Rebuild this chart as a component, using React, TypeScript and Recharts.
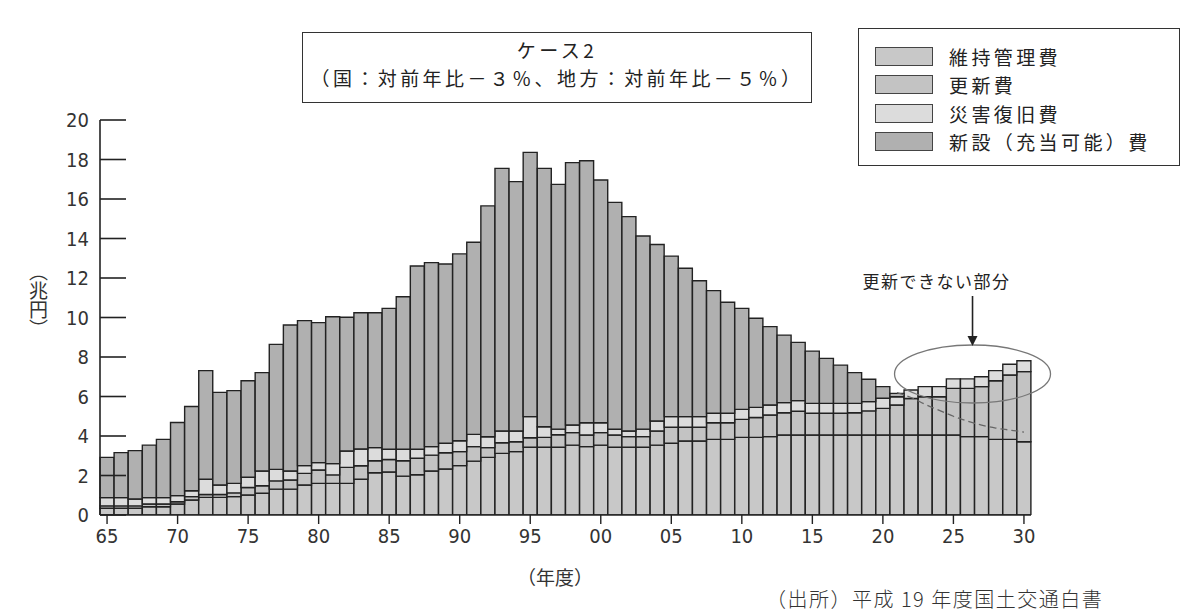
import React from 'react';
import { ComposedChart, Bar, Line, XAxis, YAxis, Legend, ReferenceDot } from 'recharts';

const years = [
  '1965','1966','1967','1968','1969','1970','1971','1972','1973','1974',
  '1975','1976','1977','1978','1979','1980','1981','1982','1983','1984',
  '1985','1986','1987','1988','1989','1990','1991','1992','1993','1994',
  '1995','1996','1997','1998','1999','2000','2001','2002','2003','2004',
  '2005','2006','2007','2008','2009','2010','2011','2012','2013','2014',
  '2015','2016','2017','2018','2019','2020','2021','2022','2023','2024',
  '2025','2026','2027','2028','2029','2030',
];

// 維持管理費
const maintenance = [
  0.34,0.34,0.34,0.42,0.42,0.56,0.76,0.89,0.89,0.93,
  1.01,1.10,1.31,1.31,1.52,1.60,1.60,1.60,1.81,2.14,
  2.18,1.97,2.04,2.23,2.33,2.50,2.73,2.92,3.12,3.21,
  3.43,3.43,3.43,3.54,3.46,3.54,3.43,3.43,3.43,3.54,
  3.63,3.75,3.75,3.83,3.83,3.93,3.93,3.97,4.05,4.05,
  4.05,4.05,4.05,4.05,4.05,4.05,4.05,4.05,4.05,4.05,
  4.05,3.97,3.97,3.83,3.83,3.71,
];
// 更新費
const renewal = [
  0.12,0.12,0.12,0.14,0.14,0.11,0.17,0.15,0.15,0.19,
  0.38,0.38,0.42,0.46,0.59,0.68,0.43,0.81,0.68,0.61,
  0.63,0.78,0.83,0.80,0.82,0.71,0.73,0.49,0.54,0.50,
  0.48,0.50,0.63,0.63,0.59,0.63,0.62,0.54,0.54,0.71,
  0.81,0.69,0.69,0.84,0.84,0.91,1.01,1.09,1.13,1.20,
  1.10,1.10,1.10,1.13,1.22,1.35,1.52,1.85,1.94,1.94,
  2.36,2.44,2.53,2.97,3.26,3.55,
];
// 災害復旧費
const disaster = [
  0.42,0.42,0.35,0.32,0.32,0.31,0.30,0.77,0.48,0.48,
  0.52,0.75,0.58,0.46,0.39,0.37,0.57,0.83,0.85,0.66,
  0.52,0.58,0.46,0.43,0.48,0.55,0.62,0.55,0.59,0.54,
  1.07,0.54,0.29,0.39,0.62,0.50,0.29,0.28,0.38,0.51,
  0.54,0.54,0.54,0.48,0.48,0.51,0.51,0.51,0.51,0.54,
  0.50,0.50,0.50,0.47,0.47,0.51,0.42,0.43,0.51,0.51,
  0.48,0.48,0.50,0.51,0.54,0.55,
];
// 新設（充当可能）費
const newBuild = [
  2.04,2.28,2.45,2.66,2.95,3.70,4.26,5.50,4.69,4.70,
  4.89,4.98,6.33,7.39,7.34,7.09,7.44,6.77,6.90,6.83,
  7.13,7.72,9.28,9.32,9.08,9.46,9.73,11.69,13.30,12.63,
  13.38,13.08,12.39,13.28,13.27,12.29,11.49,10.86,9.78,8.94,
  8.13,7.51,6.88,6.21,5.62,5.11,4.51,3.97,3.42,2.95,
  2.65,2.28,1.94,1.56,1.13,0.59,0.17,0,0,0,
  0,0,0,0,0,0,
];
// 投資可能総額（破線）
const budget = [
  null,null,null,null,null,null,null,null,null,null,
  null,null,null,null,null,null,null,null,null,null,
  null,null,null,null,null,null,null,null,null,null,
  null,null,null,null,null,null,null,null,null,null,
  null,null,null,null,null,null,null,null,null,null,
  null,null,null,null,null,null,6.2,5.95,5.6,5.3,
  5.0,4.75,4.55,4.4,4.3,4.2,
];

const seriesNames = ['維持管理費', '更新費', '災害復旧費', '新設（充当可能）費'];
const seriesColors = ['#c8c8c8', '#c3c3c3', '#dcdcdc', '#b0b0b0'];
const yTicks = [0, 2, 4, 6, 8, 10, 12, 14, 16, 18, 20];
const tickYears = ['1965','1970','1975','1980','1985','1990','1995','2000','2005','2010','2015','2020','2025','2030'];
const tickLabels = ['65','70','75','80','85','90','95','00','05','10','15','20','25','30'];

const data = years.map((y, i) => ({
  year: y,
  maintenance: maintenance[i],
  renewal: renewal[i],
  disaster: disaster[i],
  newBuild: newBuild[i],
  budget: budget[i],
}));

const tickFont = "'Liberation Sans Narrow', 'DejaVu Sans Condensed', 'Noto Sans CJK JP', sans-serif";
const jpFont = "'Noto Sans CJK JP', 'Noto Sans', sans-serif";
const noTrim: any = { textSpacingTrim: 'space-all' };

const YTick = (props: any) => {
  const { x, y, payload } = props;
  return (
    <g>
      <line x1={x + 10} y1={y} x2={x + 36} y2={y} stroke="#222" strokeWidth={1.6} />
      <text x={x - 1} y={y} dy={7} textAnchor="end" fontSize={20} fill="#333" fontFamily={tickFont}>
        {payload.value}
      </text>
    </g>
  );
};

const Annotation = (props: any) => {
  const { cx, cy } = props;
  if (cx == null || cy == null) return null;
  const ax = cx + 5;
  return (
    <g>
      <ellipse cx={ax} cy={cy} rx={78} ry={29} fill="none" stroke="#777" strokeWidth={1.3} />
      <line x1={ax} y1={cy - 78} x2={ax} y2={cy - 36} stroke="#222" strokeWidth={1.6} />
      <path d={`M${ax - 5},${cy - 38} L${ax + 5},${cy - 38} L${ax},${cy - 28} Z`} fill="#222" />
      <text x={cx - 31} y={cy - 86} textAnchor="middle" fontSize={17} letterSpacing={1.5} fill="#222" fontFamily={jpFont}>
        更新できない部分
      </text>
    </g>
  );
};

const LegendBox = (props: any) => {
  const items = (props.payload || [])
    .filter((p: any) => p.type !== 'none' && seriesNames.indexOf(p.value) >= 0)
    .slice()
    .sort((a: any, b: any) => seriesNames.indexOf(a.value) - seriesNames.indexOf(b.value));
  return (
    <div style={{
      border: '1.6px solid #333', background: '#fff', width: 322, height: 138,
      boxSizing: 'border-box', padding: '13px 0 0 16px', fontFamily: jpFont,
    }}>
      {items.map((p: any) => (
        <div key={p.value} style={{ display: 'flex', alignItems: 'center', height: 28.5 }}>
          <span style={{
            display: 'inline-block', width: 56, height: 17, background: p.color,
            border: '1.6px solid #444', marginRight: 16, flex: 'none',
          }} />
          <span style={{ fontSize: 19, lineHeight: '27px', letterSpacing: 3.4, color: '#222', whiteSpace: 'nowrap', ...noTrim }}>{p.value}</span>
        </div>
      ))}
    </div>
  );
};

export default function App() {
  return (
    <div style={{ position: 'absolute', left: 0, top: 0, width: 1190, height: 614, background: '#fff' }}>
      <ComposedChart
        width={1190}
        height={614}
        data={data}
        margin={{ top: 120, right: 159, left: 40, bottom: 49 }}
        barCategoryGap={0}
        barGap={0}
      >
        <XAxis
          dataKey="year"
          interval={4}
          tickFormatter={(v: string) => tickLabels[tickYears.indexOf(v)] ?? ''}
          tickSize={9}
          tickMargin={5}
          height={50}
          axisLine={{ stroke: '#222', strokeWidth: 1.6 }}
          tickLine={{ stroke: '#222', strokeWidth: 1.4 }}
          tick={{ fontSize: 20, fill: '#333', fontFamily: tickFont }}
        />
        <YAxis
          domain={[0, 20]}
          ticks={yTicks}
          width={60}
          tickSize={0}
          tickMargin={10}
          tickLine={false}
          axisLine={{ stroke: '#222', strokeWidth: 1.6 }}
          tick={<YTick />}
          allowDataOverflow
        />
        <Legend
          layout="vertical"
          align="center"
          verticalAlign="middle"
          content={<LegendBox />}
          wrapperStyle={{ position: 'absolute', left: 858, top: 28, width: 322, height: 138 }}
        />
        <Bar dataKey="maintenance" name={seriesNames[0]} stackId="a" fill={seriesColors[0]} stroke="#222" strokeWidth={1.4} isAnimationActive={false} />
        <Bar dataKey="renewal" name={seriesNames[1]} stackId="a" fill={seriesColors[1]} stroke="#222" strokeWidth={1.4} isAnimationActive={false} />
        <Bar dataKey="disaster" name={seriesNames[2]} stackId="a" fill={seriesColors[2]} stroke="#222" strokeWidth={1.4} isAnimationActive={false} />
        <Bar dataKey="newBuild" name={seriesNames[3]} stackId="a" fill={seriesColors[3]} stroke="#222" strokeWidth={1.4} isAnimationActive={false} />
        <Line
          type="monotone"
          dataKey="budget"
          stroke="#666"
          strokeWidth={1.3}
          strokeDasharray="7 4"
          dot={false}
          legendType="none"
          isAnimationActive={false}
        />
        <ReferenceDot x="2026" y={7.14} r={0} shape={<Annotation />} />
      </ComposedChart>

      <div style={{
        position: 'absolute', left: 302, top: 32, width: 510, height: 71, boxSizing: 'border-box',
        border: '1.6px solid #333', background: '#fff', fontFamily: jpFont, color: '#222',
        textAlign: 'center', fontSize: 19, lineHeight: '27.5px', paddingTop: 3, overflow: 'hidden',
      }}>
        <div style={{ letterSpacing: 3.5, ...noTrim }}>ケース2</div>
        <div style={{ letterSpacing: 3.4, whiteSpace: 'nowrap', marginLeft: -12, marginRight: -12, ...noTrim }}>（国：対前年比－３％、地方：対前年比－５％）</div>
      </div>

      <div style={{
        position: 'absolute', left: 26, top: 262, fontSize: 19, fontFamily: jpFont, color: '#333',
        writingMode: 'vertical-rl', lineHeight: '24px', ...noTrim,
      }}>（兆円）</div>

      <div style={{
        position: 'absolute', left: 495, top: 563, width: 120, textAlign: 'center',
        fontSize: 19, fontFamily: jpFont, color: '#333', lineHeight: '28px', ...noTrim,
      }}>（年度）</div>

      <div style={{
        position: 'absolute', left: 766, top: 585, fontSize: 20, fontFamily: jpFont, color: '#333',
        lineHeight: '28px', whiteSpace: 'nowrap', fontWeight: 300, letterSpacing: 1.5, ...noTrim,
      }}>（出所）平成 19 年度国土交通白書</div>
    </div>
  );
}
